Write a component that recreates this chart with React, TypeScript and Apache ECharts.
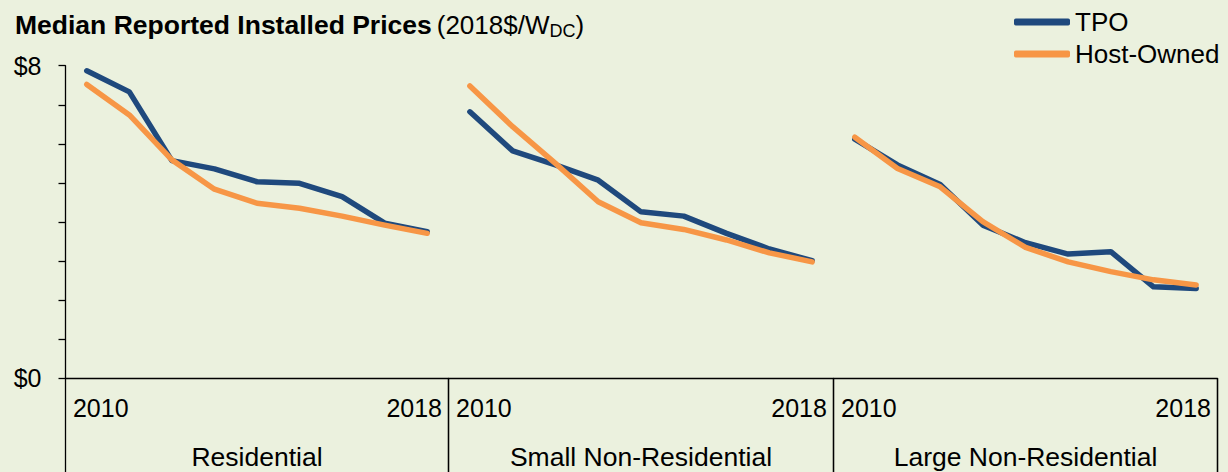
import React, { useEffect, useRef } from "react";
import * as echarts from "echarts";

const years = ["2010", "2011", "2012", "2013", "2014", "2015", "2016", "2017", "2018"];
const segments = ["Residential", "Small Non-Residential", "Large Non-Residential"];
const seriesNames = ["TPO", "Host-Owned"];

const tpoResidential = [7.87, 7.33, 5.57, 5.36, 5.03, 4.99, 4.65, 3.97, 3.75];
const hostResidential = [7.52, 6.74, 5.59, 4.84, 4.48, 4.35, 4.15, 3.92, 3.71];
const tpoSmall = [6.82, 5.82, 5.46, 5.07, 4.26, 4.15, 3.71, 3.31, 3.01];
const hostSmall = [7.48, 6.44, 5.5, 4.52, 3.98, 3.81, 3.54, 3.21, 2.98];
const tpoLarge = [6.12, 5.46, 4.96, 3.92, 3.47, 3.18, 3.24, 2.34, 2.3];
const hostLarge = [6.17, 5.37, 4.9, 4.01, 3.35, 2.98, 2.73, 2.52, 2.39];

const yMin = 0;
const yMax = 8;
const yInterval = 1;
const yTickLabels: Record<number, string> = { 0: "$0", 8: "$8" };

const tpoData = [tpoResidential, tpoSmall, tpoLarge];
const hostData = [hostResidential, hostSmall, hostLarge];

const BLUE = "#1F497D";
const ORANGE = "#F79646";
const BG = "#EBF1DE";
const FONT = "'Liberation Sans', Arial, sans-serif";

export default function App() {
  const ref = useRef<HTMLDivElement>(null);

  useEffect(() => {
    if (!ref.current) return;
    const chart = echarts.init(ref.current, undefined, { renderer: "svg" });

    const panels = [
      { left: 65.5, width: 383 },
      { left: 448.5, width: 385 },
      { left: 833.5, width: 384 },
    ];
    const top = 65.7;
    const height = 312.6;
    const bottomY = top + height;
    const last = panels[panels.length - 1];
    const rightX = last.left + last.width;

    const grids = panels.map((p) => ({
      left: p.left,
      top,
      width: p.width,
      height,
      outerBoundsMode: "none",
      containLabel: false,
    }));

    const xAxes = panels.map((_, i) => ({
      type: "category",
      gridIndex: i,
      data: years,
      boundaryGap: true,
      axisLine: { show: true, lineStyle: { color: "#000", width: 1.3 } },
      axisTick: {
        show: true,
        length: 100,
        interval: (idx: number) => idx === 0,
        lineStyle: { color: "#000", width: 1.3 },
      },
      axisLabel: {
        show: true,
        interval: (idx: number) => idx === 0 || idx === years.length - 1,
        margin: 17,
        color: "#000",
        fontFamily: FONT,
        fontSize: 25,
        formatter: (v: string, idx: number) =>
          idx === 0 ? `{l|${v}}` : idx === years.length - 1 ? `{r|${v}}` : "",
        rich: {
          l: { fontSize: 25, fontFamily: FONT, color: "#000", padding: [0, 0, 0, 28] },
          r: { fontSize: 25, fontFamily: FONT, color: "#000", padding: [0, 26, 0, 0] },
        },
      },
      name: segments[i],
      nameLocation: "middle",
      nameGap: 65,
      nameTextStyle: { color: "#000", fontFamily: FONT, fontSize: 26.5 },
      splitLine: { show: false },
    }));

    const yAxes = panels.map((_, i) => ({
      type: "value",
      gridIndex: i,
      min: yMin,
      max: yMax,
      interval: yInterval,
      show: i === 0,
      axisLine: { show: true, lineStyle: { color: "#000", width: 1.3 } },
      axisTick: { show: true, length: 7, lineStyle: { color: "#000", width: 1.3 } },
      axisLabel: {
        show: true,
        margin: 24,
        color: "#000",
        fontFamily: FONT,
        fontSize: 25,
        formatter: (v: number) => yTickLabels[v] ?? "",
      },
      splitLine: { show: false },
    }));

    const series: any[] = [];
    panels.forEach((_, i) => {
      series.push({
        name: seriesNames[0],
        type: "line",
        xAxisIndex: i,
        yAxisIndex: i,
        data: tpoData[i],
        symbol: "none",
        lineStyle: { color: BLUE, width: 5.5, cap: "round", join: "round" },
        itemStyle: { color: BLUE },
        z: 2,
      });
    });
    panels.forEach((_, i) => {
      series.push({
        name: seriesNames[1],
        type: "line",
        xAxisIndex: i,
        yAxisIndex: i,
        data: hostData[i],
        symbol: "none",
        lineStyle: { color: ORANGE, width: 5.5, cap: "round", join: "round" },
        itemStyle: { color: ORANGE },
        z: 3,
      });
    });

    chart.setOption({
      animation: false,
      backgroundColor: BG,
      title: {
        left: 15,
        top: 10,
        padding: 0,
        text: "{b|Median Reported Installed Prices} {n|(2018$/W}{s|DC}{n|)}",
        textStyle: {
          fontWeight: "normal",
          rich: {
            b: { fontFamily: FONT, fontSize: 26.5, fontWeight: "bold", color: "#000", lineHeight: 30 },
            n: { fontFamily: FONT, fontSize: 26, fontWeight: "normal", color: "#000", lineHeight: 30 },
            s: {
              fontFamily: FONT,
              fontSize: 18,
              fontWeight: "normal",
              color: "#000",
              lineHeight: 18,
              verticalAlign: "bottom",
            },
          },
        },
      },
      legend: {
        orient: "vertical",
        left: 1014,
        top: 9,
        padding: 0,
        itemGap: 6,
        itemWidth: 56,
        itemHeight: 7,
        icon: "roundRect",
        data: seriesNames,
        textStyle: { fontFamily: FONT, fontSize: 26, color: "#000" },
      },
      grid: grids,
      xAxis: xAxes,
      yAxis: yAxes,
      series,
      graphic: [
        {
          type: "line",
          shape: { x1: rightX, y1: bottomY, x2: rightX, y2: 480 },
          style: { stroke: "#000", lineWidth: 1.3 },
          silent: true,
        },
      ],
    });

    return () => chart.dispose();
  }, []);

  return (
    <div
      ref={ref}
      style={{ position: "absolute", left: 0, top: 0, width: 1228, height: 472 }}
    />
  );
}
